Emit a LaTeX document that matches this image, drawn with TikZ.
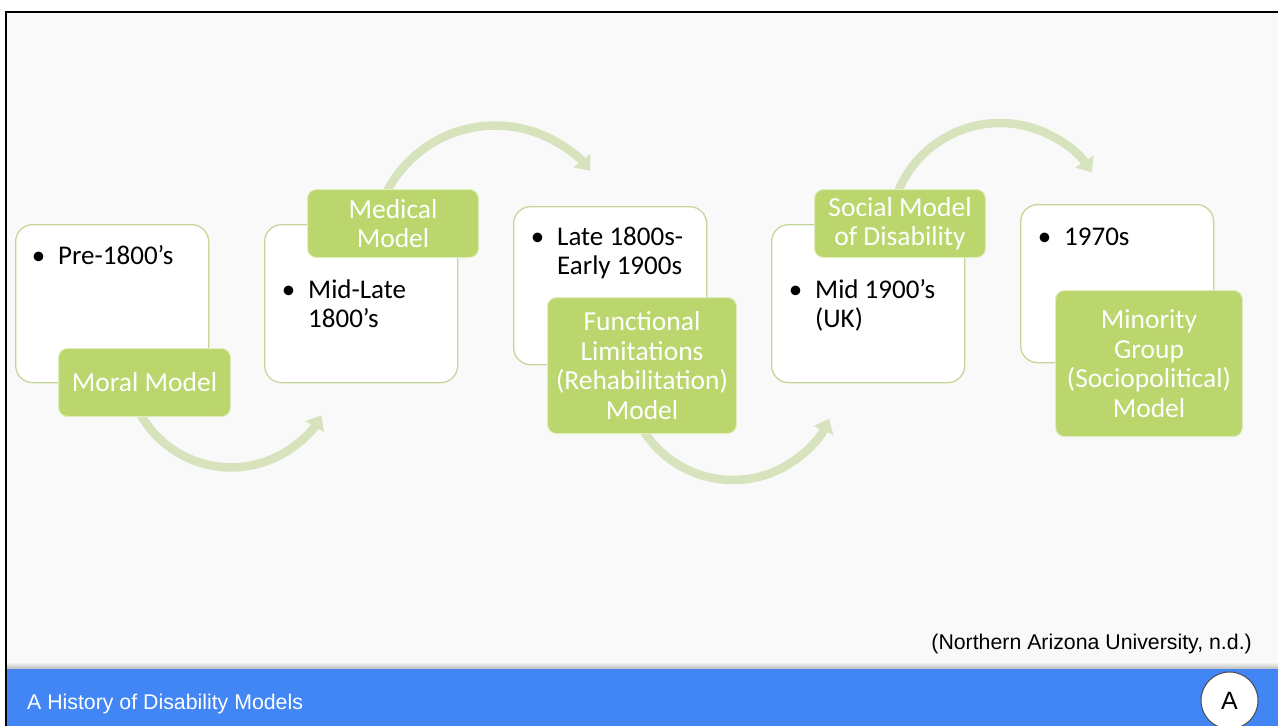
\documentclass[tikz,border=0pt]{standalone}
\usepackage{fontspec}
\usepackage{graphicx}
\setmainfont{Carlito}
\newfontfamily\footfont{Liberation Sans}
\usetikzlibrary{arrows.meta}
\definecolor{bg}{RGB}{249,249,249}
\definecolor{boxline}{RGB}{196,215,155}
\definecolor{lab}{RGB}{187,214,108}
\definecolor{arr}{RGB}{214,227,188}
\definecolor{barblue}{RGB}{66,133,244}
\newcommand{\txtlines}[1]{\begin{tabular}[t]{@{}l@{}}#1\end{tabular}}
\newcommand{\bul}{\llap{\textbullet\hspace{13pt}}}
\begin{document}
\begin{tikzpicture}[x=1pt,y=-1pt,
  wbox/.style={draw=boxline, line width=1.3pt, fill=white, rounded corners=17pt,
    minimum width=193pt, minimum height=158pt, anchor=north west, inner sep=0pt},
  glab/.style={draw=white!55!lab, line width=1pt, fill=lab, rounded corners=9pt,
    text=white, font=\fontsize{27.5}{29.5}\selectfont, align=center,
    inner sep=0pt, anchor=north west},
  btxt/.style={anchor=base west, inner sep=0pt, text=black,
    font=\fontsize{27}{29.5}\selectfont},
  flow/.style={draw=arr, line width=8.5pt, -{Triangle[width=21pt,length=13pt]}},
  foot/.style={inner sep=0pt, font=\footfont\fontsize{21.3}{24}\selectfont}]
\useasboundingbox (0,0) rectangle (1278,726);
% page and frame
\fill[white] (0,0) rectangle (1278,726);
\fill[bg] (6,12) rectangle (1278,726);
\shade[top color=bg, bottom color=black!28] (7,662) rectangle (1278,669.5);
\fill[barblue] (7,669) rectangle (1278,726);
\draw[line width=2.6pt, black] (6,726) -- (6,12) -- (1278,12);

% curved arrows (behind the boxes)
\coordinate (a1s) at (139.3,412.2);
\draw[flow] (a1s) arc[start angle=152, end angle=30, radius=104];
\coordinate (a2s) at (384.7,196);
\draw[flow] (a2s) arc[start angle=205, end angle=321, radius=122];
\coordinate (a3s) at (641.2,427);
\draw[flow] (a3s) arc[start angle=150, end angle=25, radius=106];
\coordinate (a4s) at (896.6,195.4);
\draw[flow] (a4s) arc[start angle=200, end angle=326.5, radius=110];

% white boxes
\node[wbox] (b1) at (15,224) {};
\node[wbox] (b2) at (264,224) {};
\node[wbox] (b3) at (513,206) {};
\node[wbox] (b4) at (771,224) {};
\node[wbox] (b5) at (1020,204) {};

% box texts
\node[btxt] (t1) at (58,264) {\bul\txtlines{Pre-1800’s}};
\node[btxt] (t2) at (308,298) {\bul\txtlines{Mid-Late\\1800’s}};
\node[btxt] (t3) at (557,245) {\bul\txtlines{Late 1800s-\\Early 1900s}};
\node[btxt] (t4) at (815,298) {\bul\txtlines{Mid 1900’s\\(UK)}};
\node[btxt] (t5) at (1064,245) {\bul\txtlines{1970s}};

% green labels
\node[glab, minimum width=172pt, minimum height=68pt] (l1) at (58,348) {Moral Model};
\node[glab, minimum width=171pt, minimum height=68pt] (l2) at (307,189) {Medical\\Model};
\node[glab, minimum width=189pt, minimum height=136pt] (l3) at (547,297) {Functional\\Limitations\\(Rehabilitation)\\Model};
\node[glab, minimum width=171pt, minimum height=68pt] (l4) at (814,189) {Social Model\\of Disability};
\node[glab, minimum width=187pt, minimum height=146pt] (l5) at (1055,290) {Minority\\Group\\(Sociopolitical)\\Model};

% footer
\node[foot, anchor=base east, text=black] (cite) at (1252,649) {(Northern Arizona University, n.d.)};
\node[foot, anchor=base west, text=white] (title) at (27,709) {A History of Disability Models};
\node[circle, draw=black!70, line width=1pt, fill=white, minimum size=57pt, inner sep=0pt,
  font=\footfont\fontsize{25}{25}\selectfont] (badge) at (1229.5,700.5) {A};
\end{tikzpicture}
\end{document}
